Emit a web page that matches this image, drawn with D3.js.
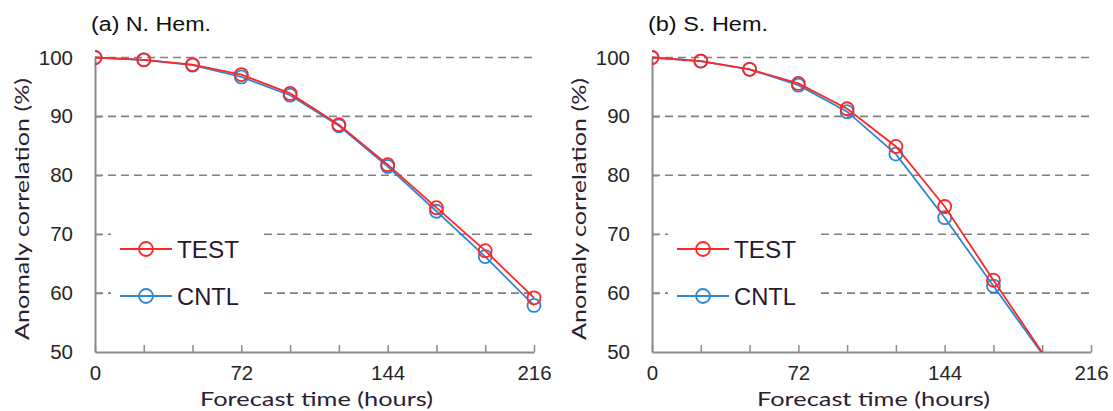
<!DOCTYPE html>
<html>
<head>
<meta charset="utf-8">
<script src="https://cdn.jsdelivr.net/npm/d3@7"></script>
<style>
  html, body { margin: 0; padding: 0; background: #fff; }
  svg { display: block; }
</style>
</head>
<body>
<svg id="chart" width="1113" height="411"></svg>
<script>
// ---- data ----
const hours = [0, 24, 48, 72, 96, 120, 144, 168, 192, 216];
const xTickLabels = [0, 72, 144, 216];
const yTicks = [50, 60, 70, 80, 90, 100];
const seriesNames = ["TEST", "CNTL"];
const panelTitles = ["(a) N. Hem.", "(b) S. Hem."];
const nhTest = [100, 99.6, 98.8, 97.1, 93.9, 88.6, 81.8, 74.5, 67.2, 59.2];
const nhCntl = [100, 99.6, 98.7, 96.7, 93.6, 88.4, 81.5, 73.9, 66.2, 57.9];
const shTest = [100, 99.4, 98.0, 95.6, 91.3, 84.9, 74.7, 62.2, 49.9];
const shCntl = [100, 99.4, 98.0, 95.3, 90.8, 83.6, 72.8, 61.2, 49.7];

const colors = { TEST: "#ff2626", CNTL: "#2f87d2" };
const svg = d3.select("#chart");

function panel(idx, dx, testVals, cntlVals) {
  const x0 = 95 + dx, x1 = 534 + dx, yTop = 57.5, yBot = 352;
  const x = d3.scaleLinear().domain([0, 216]).range([x0, x1]);
  const y = d3.scaleLinear().domain([50, 100]).range([yBot, yTop]);
  const g = svg.append("g");

  // clip
  const clipId = "clip" + idx;
  svg.append("clipPath").attr("id", clipId).append("rect")
    .attr("x", x0).attr("y", yTop - 10).attr("width", x1 - x0 + 10).attr("height", yBot - yTop + 10);

  // gridlines
  g.append("g").selectAll("line").data(yTicks.filter(v => v > 50)).join("line")
    .attr("x1", x0).attr("x2", x1)
    .attr("y1", d => y(d)).attr("y2", d => y(d))
    .attr("stroke", "#808080").attr("stroke-width", 1.6).attr("stroke-dasharray", "8,5");

  // axes
  const xAxis = d3.axisBottom(x).tickValues(hours)
    .tickFormat(d => xTickLabels.includes(d) ? d : "")
    .tickSizeInner(-7).tickSizeOuter(0).tickPadding(13);
  const gx = g.append("g").attr("transform", `translate(0,${yBot})`).call(xAxis);
  const yAxis = d3.axisLeft(y).tickValues(yTicks)
    .tickSizeInner(-7).tickSizeOuter(0).tickPadding(22);
  const gy = g.append("g").attr("transform", `translate(${x0},0)`).call(yAxis);
  [gx, gy].forEach(a => {
    a.select(".domain").attr("stroke", "#8a8a8a").attr("stroke-width", 2);
    a.selectAll(".tick line").attr("stroke", "#8a8a8a").attr("stroke-width", 1.5);
    a.selectAll(".tick text").attr("fill", "#262626")
      .style("font-family", "'Liberation Sans', Arial, sans-serif").style("font-size", "20.5px");
  });
  gy.selectAll(".tick line").filter(d => d === 50 || d === 100).remove();

  // legend background (white box)
  g.append("rect").attr("x", x0 + 16).attr("y", 224).attr("width", 152).attr("height", 90).attr("fill", "#fff");

  // series
  const data = [
    { name: "CNTL", vals: cntlVals },
    { name: "TEST", vals: testVals }
  ];
  const line = d3.line().x((d, i) => x(hours[i])).y(d => y(d));
  const sg = g.append("g").attr("clip-path", `url(#${clipId})`);
  data.forEach(s => {
    sg.append("path").datum(s.vals).attr("d", line)
      .attr("fill", "none").attr("stroke", colors[s.name]).attr("stroke-width", 1.8);
    sg.selectAll(null).data(s.vals.map((v, i) => ({ v, h: hours[i] })).filter(p => p.v >= 50))
      .join("circle")
      .attr("cx", p => x(p.h)).attr("cy", p => y(p.v)).attr("r", 6.5)
      .attr("fill", "none").attr("stroke", colors[s.name]).attr("stroke-width", 1.8);
  });

  // legend
  seriesNames.forEach((n, i) => {
    const ly = 249 + i * 47;
    g.append("line").attr("x1", x0 + 25).attr("x2", x0 + 77).attr("y1", ly).attr("y2", ly)
      .attr("stroke", colors[n]).attr("stroke-width", 1.8);
    g.append("circle").attr("cx", x0 + 51).attr("cy", ly).attr("r", 7)
      .attr("fill", "none").attr("stroke", colors[n]).attr("stroke-width", 1.8);
    g.append("text").attr("x", x0 + 82).attr("y", ly + 9)
      .attr("textLength", 62).attr("lengthAdjust", "spacingAndGlyphs")
      .style("font-family", "'Liberation Sans', Arial, sans-serif").style("font-size", "24px")
      .attr("fill", "#2a1830").text(n);
  });

  // title
  g.append("text").attr("x", x0 - 4).attr("y", 31)
    .attr("textLength", 120).attr("lengthAdjust", "spacingAndGlyphs")
    .style("font-family", "'Liberation Sans', Arial, sans-serif").style("font-size", "20px")
    .attr("fill", "#111").text(panelTitles[idx]);

  // y label
  g.append("text").attr("transform", `translate(${x0 - 66},209) rotate(-90)`)
    .attr("text-anchor", "middle").attr("textLength", 262).attr("lengthAdjust", "spacingAndGlyphs")
    .style("font-family", "Lato, 'Liberation Sans', sans-serif").style("font-size", "19px")
    .attr("fill", "#2a2030").text("Anomaly correlation (%)");

  // x label
  g.append("text").attr("x", (x0 + x1) / 2 + 2).attr("y", 406)
    .attr("text-anchor", "middle").attr("textLength", 233).attr("lengthAdjust", "spacingAndGlyphs")
    .style("font-family", "Lato, 'Liberation Sans', sans-serif").style("font-size", "19px")
    .attr("fill", "#2a2030").text("Forecast time  (hours)");
}

panel(0, 0, nhTest, nhCntl);
panel(1, 557, shTest, shCntl);
</script>
</body>
</html>
